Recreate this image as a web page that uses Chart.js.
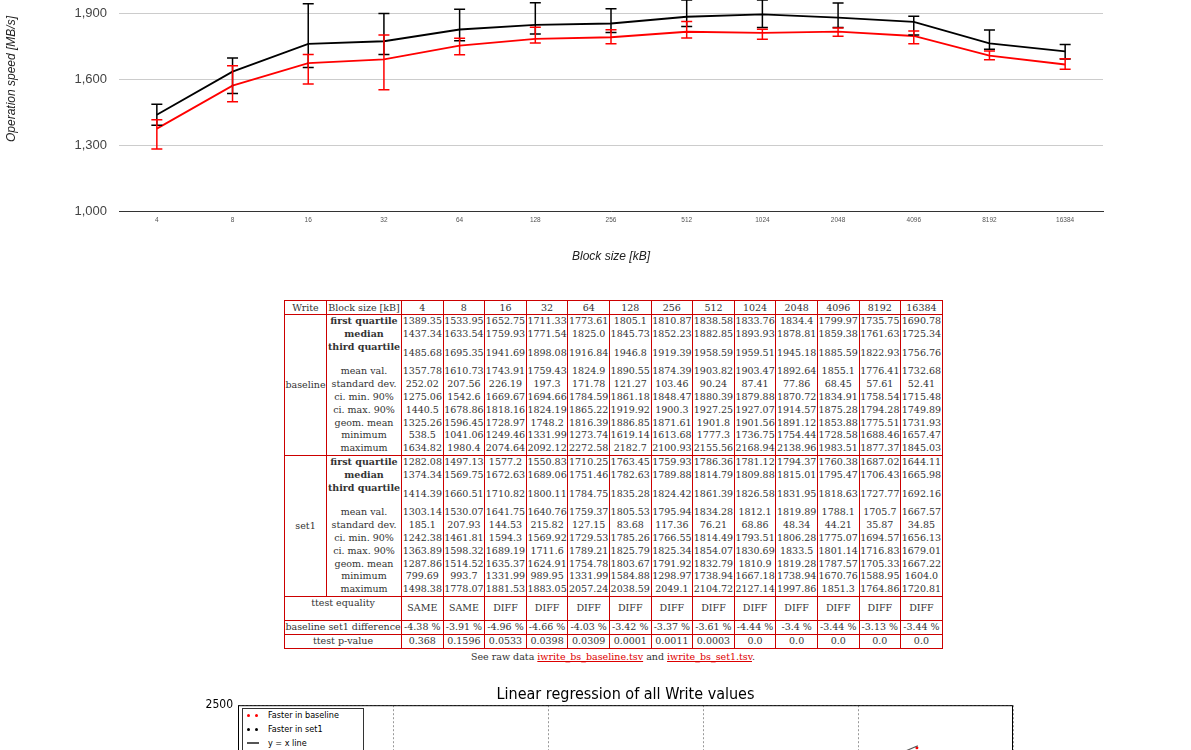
<!DOCTYPE html>
<html>
<head>
<meta charset="utf-8">
<script src="https://cdn.jsdelivr.net/npm/chart.js@4.4.0/dist/chart.umd.min.js"></script>
<style>
html, body { margin: 0; padding: 0; overflow: hidden; background: #fff; width: 1191px; height: 750px; }
#speedBox { position: absolute; left: 0; top: -73px; width: 1191px; height: 341px; }
#regBox { position: absolute; left: 0; top: 669px; width: 1191px; height: 387px; }
#tableWrap { position: absolute; left: 284px; top: 300px; width: 658px; }
#stats { width: 658px; border-collapse: collapse; table-layout: fixed;
  font: 9.5px "DejaVu Serif", serif; color: #333; }
#stats td { border-left: 1px solid #c00; border-right: 1px solid #c00; padding: 0; text-align: center;
  white-space: nowrap; overflow: hidden; height: 12.8px; line-height: 12.8px; vertical-align: middle; }
#stats tr.head td { height: 13px; line-height: 13px; border-top: 1px solid #c00; border-bottom: 1px solid #c00; }
#stats tr.sec td { border-top: 1px solid #c00; }
#stats tr.last td { border-bottom: 1px solid #c00; }
#stats td.dbl { height: 24.8px; }
#stats td.tt { height: 23px; }
#stats td.lbltop { vertical-align: top; }
#stats td b { font-weight: bold; }
#rawdata { margin-top: 2px; text-align: center; font: 9.5px "DejaVu Serif", serif; color: #333; line-height: 12px; }
#rawdata a { color: #d00; }
#regLegend { position: absolute; left: 242px; top: 708px; width: 120px; height: 60px; border: 1px solid #333;
  background: #fff; font: 9px "DejaVu Sans Condensed", "DejaVu Sans", sans-serif; color: #000; }
#regLegend .row { position: absolute; left: 0; height: 12px; line-height: 12px; white-space: nowrap; }
#regLegend .dot { position: absolute; width: 3px; height: 3px; border-radius: 50%; top: 5px; }
#regLegend .bar { position: absolute; width: 12px; height: 2px; background: #555; top: 5px; left: 4px; }
#regLegend .txt { position: absolute; left: 25px; top: 0; }
</style>
</head>
<body>
<div id="speedBox"><canvas id="speedChart"></canvas></div>
<div id="tableWrap">
  <table id="stats"></table>
  <div id="rawdata">See raw data <a href="#">iwrite_bs_baseline.tsv</a> and <a href="#">iwrite_bs_set1.tsv</a>.</div>
</div>
<div id="regBox"><canvas id="regChart"></canvas></div>
<div id="regLegend">
  <div class="row" style="top:0px"><span class="dot" style="left:4px;background:#f00"></span><span class="dot" style="left:12px;background:#f00"></span><span class="txt">Faster in baseline</span></div>
  <div class="row" style="top:14px"><span class="dot" style="left:4px;background:#000"></span><span class="dot" style="left:12px;background:#000"></span><span class="txt">Faster in set1</span></div>
  <div class="row" style="top:28px"><span class="bar"></span><span class="txt">y = x line</span></div>
</div>
<script>
// block sizes on the x axis
const blockSizes = ['4', '8', '16', '32', '64', '128', '256', '512', '1024', '2048', '4096', '8192', '16384'];

// baseline stats
const baselineQ1 = [1389.35, 1533.95, 1652.75, 1711.33, 1773.61, 1805.1, 1810.87, 1838.58, 1833.76, 1834.4, 1799.97, 1735.75, 1690.78];
const baselineMedian = [1437.34, 1633.54, 1759.93, 1771.54, 1825.0, 1845.73, 1852.23, 1882.85, 1893.93, 1878.81, 1859.38, 1761.63, 1725.34];
const baselineQ3 = [1485.68, 1695.35, 1941.69, 1898.08, 1916.84, 1946.8, 1919.39, 1958.59, 1959.51, 1945.18, 1885.59, 1822.93, 1756.76];
const baselineMean = [1357.78, 1610.73, 1743.91, 1759.43, 1824.9, 1890.55, 1874.39, 1903.82, 1903.47, 1892.64, 1855.1, 1776.41, 1732.68];
const baselineStd = [252.02, 207.56, 226.19, 197.3, 171.78, 121.27, 103.46, 90.24, 87.41, 77.86, 68.45, 57.61, 52.41];
const baselineCiMin = [1275.06, 1542.6, 1669.67, 1694.66, 1784.59, 1861.18, 1848.47, 1880.39, 1879.88, 1870.72, 1834.91, 1758.54, 1715.48];
const baselineCiMax = [1440.5, 1678.86, 1818.16, 1824.19, 1865.22, 1919.92, 1900.3, 1927.25, 1927.07, 1914.57, 1875.28, 1794.28, 1749.89];
const baselineGeom = [1325.26, 1596.45, 1728.97, 1748.2, 1816.39, 1886.85, 1871.61, 1901.8, 1901.56, 1891.12, 1853.88, 1775.51, 1731.93];
const baselineMin = [538.5, 1041.06, 1249.46, 1331.99, 1273.74, 1619.14, 1613.68, 1777.3, 1736.75, 1754.44, 1728.58, 1688.46, 1657.47];
const baselineMax = [1634.82, 1980.4, 2074.64, 2092.12, 2272.58, 2182.7, 2100.93, 2155.56, 2168.94, 2138.96, 1983.51, 1877.37, 1845.03];

// set1 stats
const set1Q1 = [1282.08, 1497.13, 1577.2, 1550.83, 1710.25, 1763.45, 1759.93, 1786.36, 1781.12, 1794.37, 1760.38, 1687.02, 1644.11];
const set1Median = [1374.34, 1569.75, 1672.63, 1689.06, 1751.46, 1782.63, 1789.88, 1814.79, 1809.88, 1815.01, 1795.47, 1706.43, 1665.98];
const set1Q3 = [1414.39, 1660.51, 1710.82, 1800.11, 1784.75, 1835.28, 1824.42, 1861.39, 1826.58, 1831.95, 1818.63, 1727.77, 1692.16];
const set1Mean = [1303.14, 1530.07, 1641.75, 1640.76, 1759.37, 1805.53, 1795.94, 1834.28, 1812.1, 1819.89, 1788.1, 1705.7, 1667.57];
const set1Std = [185.1, 207.93, 144.53, 215.82, 127.15, 83.68, 117.36, 76.21, 68.86, 48.34, 44.21, 35.87, 34.85];
const set1CiMin = [1242.38, 1461.81, 1594.3, 1569.92, 1729.53, 1785.26, 1766.55, 1814.49, 1793.51, 1806.28, 1775.07, 1694.57, 1656.13];
const set1CiMax = [1363.89, 1598.32, 1689.19, 1711.6, 1789.21, 1825.79, 1825.34, 1854.07, 1830.69, 1833.5, 1801.14, 1716.83, 1679.01];
const set1Geom = [1287.86, 1514.52, 1635.37, 1624.91, 1754.78, 1803.67, 1791.92, 1832.79, 1810.9, 1819.28, 1787.57, 1705.33, 1667.22];
const set1Min = [799.69, 993.7, 1331.99, 989.95, 1331.99, 1584.88, 1298.97, 1738.94, 1667.18, 1738.94, 1670.76, 1588.95, 1604.0];
const set1Max = [1498.38, 1778.07, 1881.53, 1883.05, 2057.24, 2038.59, 2049.1, 2104.72, 2127.14, 1997.86, 1851.3, 1764.86, 1720.81];

// comparison rows
const ttestEquality = ['SAME', 'SAME', 'DIFF', 'DIFF', 'DIFF', 'DIFF', 'DIFF', 'DIFF', 'DIFF', 'DIFF', 'DIFF', 'DIFF', 'DIFF'];
const diffPercent = ['-4.38 %', '-3.91 %', '-4.96 %', '-4.66 %', '-4.03 %', '-3.42 %', '-3.37 %', '-3.61 %', '-4.44 %', '-3.4 %', '-3.44 %', '-3.13 %', '-3.44 %'];
const pValues = ['0.368', '0.1596', '0.0533', '0.0398', '0.0309', '0.0001', '0.0011', '0.0003', '0.0', '0.0', '0.0', '0.0', '0.0'];

// regression plot (only the top strip shows)
const xyLine = [{x: 500, y: 500}, {x: 2193, y: 2193}];
const fasterBaseline = [{x: 2190, y: 2178}];
const fasterSet1 = [];

Chart.defaults.font.family = '"Liberation Sans", Arial, sans-serif';

// ---- table ----
function showNum(v) { return Number.isInteger(v) ? v.toFixed(1) : String(v); }

const statLabels = ['<b>first quartile</b>', '<b>median</b>', '<b>third quartile</b>', 'mean val.', 'standard dev.',
  'ci. min. 90%', 'ci. max. 90%', 'geom. mean', 'minimum', 'maximum'];
const baselineRows = [baselineQ1, baselineMedian, baselineQ3, baselineMean, baselineStd, baselineCiMin, baselineCiMax, baselineGeom, baselineMin, baselineMax];
const set1Rows = [set1Q1, set1Median, set1Q3, set1Mean, set1Std, set1CiMin, set1CiMax, set1Geom, set1Min, set1Max];

let html = '<colgroup><col style="width:42px"><col style="width:75px">';
blockSizes.forEach(() => { html += '<col style="width:41.6px">'; });
html += '</colgroup>';
html += '<tr class="head"><td>Write</td><td>Block size [kB]</td>' + blockSizes.map(b => '<td>' + b + '</td>').join('') + '</tr>';

function section(name, rows) {
  let s = '';
  rows.forEach((vals, i) => {
    const dbl = i === 2;
    s += '<tr' + (i === 0 ? ' class="sec"' : '') + '>';
    if (i === 0) s += '<td rowspan="10">' + name + '</td>';
    s += '<td class="' + (dbl ? 'dbl lbltop' : '') + '">' + statLabels[i] + '</td>';
    s += vals.map(v => '<td class="' + (dbl ? 'dbl' : '') + '">' + showNum(v) + '</td>').join('');
    s += '</tr>';
  });
  return s;
}
html += section('baseline', baselineRows);
html += section('set1', set1Rows);
html += '<tr class="sec"><td colspan="2" class="tt lbltop">ttest equality</td>' + ttestEquality.map(v => '<td class="tt">' + v + '</td>').join('') + '</tr>';
html += '<tr class="sec"><td colspan="2">baseline set1 difference</td>' + diffPercent.map(v => '<td>' + v + '</td>').join('') + '</tr>';
html += '<tr class="sec last"><td colspan="2">ttest p-value</td>' + pValues.map(v => '<td>' + v + '</td>').join('') + '</tr>';
document.getElementById('stats').innerHTML = html;

// ---- speed chart with quartile error bars ----
const quartiles = [[baselineQ1, baselineQ3], [set1Q1, set1Q3]];
const errorBars = {
  id: 'errorBars',
  afterDatasetsDraw(chart) {
    const ctx = chart.ctx;
    const y = chart.scales.y;
    chart.data.datasets.forEach((ds, i) => {
      const meta = chart.getDatasetMeta(i);
      const lo = quartiles[i][0], hi = quartiles[i][1];
      ctx.save();
      ctx.strokeStyle = ds.borderColor;
      ctx.lineWidth = 1.5;
      meta.data.forEach((pt, j) => {
        const top = y.getPixelForValue(hi[j]);
        const bot = y.getPixelForValue(lo[j]);
        ctx.beginPath();
        ctx.moveTo(pt.x, top); ctx.lineTo(pt.x, bot);
        ctx.moveTo(pt.x - 5.5, top); ctx.lineTo(pt.x + 5.5, top);
        ctx.moveTo(pt.x - 5.5, bot); ctx.lineTo(pt.x + 5.5, bot);
        ctx.stroke();
      });
      ctx.restore();
    });
  }
};

new Chart(document.getElementById('speedChart'), {
  type: 'line',
  data: {
    labels: blockSizes,
    datasets: [
      { label: 'baseline', data: baselineMedian, borderColor: '#000000', borderWidth: 1.8, pointRadius: 0, tension: 0 },
      { label: 'set1', data: set1Median, borderColor: '#ff0000', borderWidth: 1.8, pointRadius: 0, tension: 0 }
    ]
  },
  options: {
    responsive: true,
    maintainAspectRatio: false,
    animation: false,
    layout: { padding: { top: 20, right: 88, left: 0, bottom: 0 } },
    plugins: { legend: { display: false }, tooltip: { enabled: false } },
    scales: {
      x: {
        offset: true,
        grid: { display: false, drawTicks: false },
        border: { color: '#333', width: 1 },
        ticks: { font: { size: 6.5 }, color: '#555', padding: 5, maxRotation: 0, autoSkip: false },
        title: { display: true, text: 'Block size [kB]', color: '#222', font: { size: 12, style: 'italic' }, padding: { top: 4, bottom: 4 } },
        afterFit(s) { s.height = 57; }
      },
      y: {
        min: 1000,
        max: 2200,
        ticks: { stepSize: 300, font: { size: 13 }, color: '#444', padding: 12 },
        grid: { color: '#cccccc', drawTicks: false },
        border: { display: false },
        title: { display: true, text: 'Operation speed [MB/s]', color: '#222', font: { size: 12, style: 'italic' }, padding: { top: 4, bottom: 4 } },
        afterFit(s) { s.width = 119; }
      }
    }
  },
  plugins: [errorBars]
});

// ---- regression chart ----
const frame = {
  id: 'frame',
  afterDraw(chart) {
    const a = chart.chartArea, ctx = chart.ctx;
    ctx.save();
    ctx.strokeStyle = '#000';
    ctx.lineWidth = 1;
    ctx.strokeRect(a.left + 0.5, a.top + 0.5, a.right - a.left - 1, a.bottom - a.top);
    ctx.restore();
  }
};

const regFont = '"DejaVu Sans Condensed", "DejaVu Sans", sans-serif';
new Chart(document.getElementById('regChart'), {
  type: 'scatter',
  data: {
    datasets: [
      { type: 'line', label: 'y = x line', data: xyLine, borderColor: '#555', borderWidth: 1.2, pointRadius: 0 },
      { label: 'Faster in baseline', data: fasterBaseline, backgroundColor: '#f00', borderWidth: 0, pointRadius: 1.5 },
      { label: 'Faster in set1', data: fasterSet1, backgroundColor: '#000', borderWidth: 0, pointRadius: 1.5 }
    ]
  },
  options: {
    responsive: true,
    maintainAspectRatio: false,
    animation: false,
    layout: { padding: { top: 0, right: 178, left: 0, bottom: 0 } },
    plugins: {
      legend: { display: false },
      tooltip: { enabled: false },
      title: { display: true, fullSize: false, text: 'Linear regression of all Write values', color: '#000',
        font: { family: regFont, size: 16, weight: 'normal' }, padding: { top: 16, bottom: 1 } }
    },
    scales: {
      x: {
        type: 'linear', min: 0, max: 2500,
        ticks: { stepSize: 500, font: { family: regFont, size: 12 }, color: '#000', callback: v => String(v) },
        grid: { color: '#999', drawTicks: false },
        border: { display: false, dash: [2, 2] }
      },
      y: {
        type: 'linear', min: 0, max: 2500,
        ticks: { stepSize: 500, font: { family: regFont, size: 12 }, color: '#000', padding: 5, callback: v => String(v) },
        grid: { color: '#999', drawTicks: false },
        border: { display: false, dash: [2, 2] },
        afterFit(s) { s.width = 238; }
      }
    }
  },
  plugins: [frame]
});
</script>
</body>
</html>
